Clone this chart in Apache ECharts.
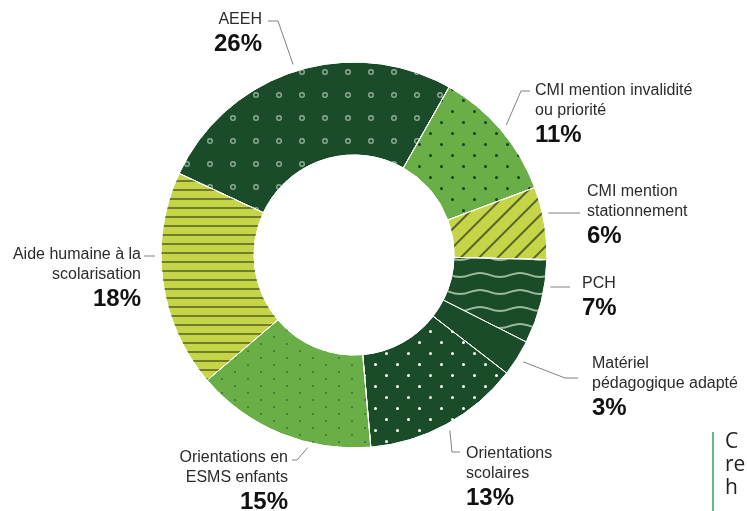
<!DOCTYPE html>
<html>
<head>
<meta charset="utf-8">
<script src="https://cdn.jsdelivr.net/npm/echarts@6/dist/echarts.min.js"></script>
<style>
  html, body { margin: 0; padding: 0; background: #fff; }
  #chart { width: 747px; height: 511px; }
</style>
</head>
<body>
<div id="chart"></div>
<script>
// data
const categories = [
  'AEEH',
  'CMI mention invalidité\nou priorité',
  'CMI mention\nstationnement',
  'PCH',
  'Matériel\npédagogique adapté',
  'Orientations\nscolaires',
  'Orientations en\nESMS enfants',
  'Aide humaine à la\nscolarisation'
];
const shares = [26, 11, 6, 7, 3, 13, 15, 18];

const CX = 354, CY = 255, R_IN = 100, R_OUT = 193;

const dark = '#1b4c2a', mid = '#69ae46', lime = '#c5d547';
const sliceColors = [dark, mid, lime, dark, dark, dark, mid, lime];

const wave = 'path://M0,0C7,0 13,4 20,4C27,4 33,0 40,0L40,1.8C33,1.8 27,5.8 20,5.8C13,5.8 7,1.8 0,1.8Z';
const ring = 'path://M5,0A5,5 0 1,1 5,10A5,5 0 1,1 5,0ZM5,2.4A2.6,2.6 0 1,0 5,7.6A2.6,2.6 0 1,0 5,2.4Z';

const decals = [
  { symbol: ring, color: '#8cab90', dashArrayX: [6, 17], dashArrayY: [6, 17] },
  { symbol: 'circle', color: '#163f22', dashArrayX: [[3, 19], [0, 11, 3, 8]], dashArrayY: [3, 8] },
  { symbol: 'rect', color: '#56642a', dashArrayX: [1, 0], dashArrayY: [1.5, 11], rotation: -Math.PI / 4 },
  { symbol: wave, color: '#9ab99b', dashArrayX: [40, 0], dashArrayY: [6, 11] },
  null,
  { symbol: 'circle', color: '#ffffff', dashArrayX: [[3, 19], [0, 11, 3, 8]], dashArrayY: [3, 8] },
  { symbol: 'circle', color: '#3b7034', dashArrayX: [[2, 24], [0, 13, 2, 11]], dashArrayY: [2, 5] },
  { symbol: 'rect', color: '#6f7d2e', dashArrayX: [1, 0], dashArrayY: [2, 7] }
];

// where each label sits
const labelSpots = [
  { x: 262, y: 10, align: 'right', lineY: 21, elbowX: 278, gap: 6 },
  { x: 535, y: 81, align: 'left', lineY: 91, elbowX: 521, gap: 5 },
  { x: 587, y: 182, align: 'left', lineY: 213, gap: 7 },
  { x: 582, y: 274, align: 'left', lineY: 287, gap: 12 },
  { x: 592, y: 354, align: 'left', lineY: 378, elbowX: 565, gap: 14 },
  { x: 466, y: 444, align: 'left', lineY: 452, elbowX: 452, gap: 6 },
  { x: 288, y: 448, align: 'right', lineY: 460, elbowX: 297, gap: 4, edgeAngle: 193.5 },
  { x: 141, y: 245, align: 'right', lineY: 256, gap: 3 }
];

const chart = echarts.init(document.getElementById('chart'));

const pieData = categories.map((name, i) => ({
  name: name,
  value: shares[i],
  itemStyle: { color: sliceColors[i], decal: decals[i] || undefined }
}));

chart.setOption({
  animation: false,
  series: [{
    type: 'pie',
    center: [CX, CY],
    radius: [R_IN, R_OUT],
    startAngle: 155,
    clockwise: true,
    avoidLabelOverlap: false,
    silent: true,
    itemStyle: { borderColor: '#fff', borderWidth: 1 },
    label: {
      show: true,
      position: 'outside',
      formatter: function (p) {
        const lines = p.name.split('\n').map(t => '{n|' + t + '}');
        lines.push('{p|' + p.value + '%}');
        return lines.join('\n');
      },
      rich: {
        n: { fontFamily: 'Liberation Sans', fontSize: 16, lineHeight: 20, color: '#2b2b2b' },
        p: { fontFamily: 'Liberation Sans', fontSize: 24, fontWeight: 'bold', lineHeight: 28, color: '#111' }
      }
    },
    labelLine: { show: true, lineStyle: { color: '#808080', width: 1 } },
    labelLayout: function (p) {
      const s = labelSpots[p.dataIndex];
      const pts = p.labelLinePoints;
      const endX = s.align === 'left' ? s.x - s.gap : s.x + s.gap;
      let line;
      if (s.edgeAngle != null) {
        const a = s.edgeAngle * Math.PI / 180, r = R_OUT + 5;
        line = [[CX + r * Math.sin(a), CY - r * Math.cos(a)], [s.elbowX, s.lineY], [endX, s.lineY]];
      } else if (s.elbowX == null || !pts) {
        const dy = s.lineY - CY;
        const dx = Math.sqrt(R_OUT * R_OUT - dy * dy) + 6;
        const start = [CX + (s.align === 'left' ? dx : -dx), s.lineY];
        line = [start, [endX, s.lineY]];
      } else {
        const ux = pts[1][0] - pts[0][0], uy = pts[1][1] - pts[0][1];
        const len = Math.hypot(ux, uy) || 1;
        const start = [pts[0][0] + ux / len * 7, pts[0][1] + uy / len * 7];
        line = [start, [s.elbowX, s.lineY], [endX, s.lineY]];
      }
      return { x: s.x, y: s.y, align: s.align, verticalAlign: 'top', labelLinePoints: line };
    },
    data: pieData
  }],
  graphic: [
    { type: 'line', shape: { x1: 713, y1: 432, x2: 713, y2: 511 }, style: { stroke: '#3d9a62', lineWidth: 1.5 } },
    { type: 'text', left: 725, top: 431, style: { text: 'C\nre\nh', fontFamily: 'Open Sans', fontSize: 21, lineHeight: 23, fill: '#222' } }
  ]
});
</script>
</body>
</html>
